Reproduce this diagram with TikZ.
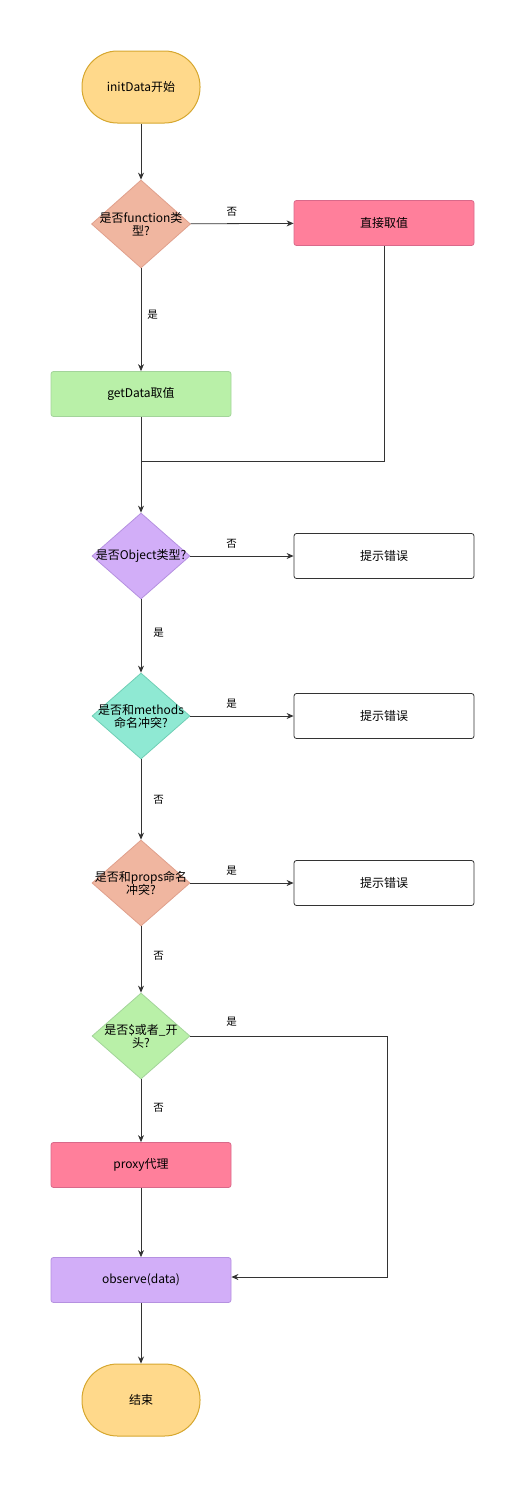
\documentclass[tikz,border=0pt]{standalone}
\usepackage{fontspec}
\setmainfont{Noto Sans CJK SC}
\usetikzlibrary{shapes.geometric,arrows.meta}
\definecolor{termfill}{HTML}{FFD98B}
\definecolor{termdraw}{HTML}{D6A72F}
\definecolor{pinkfill}{HTML}{FF7F9B}
\definecolor{pinkdraw}{HTML}{D9698A}
\definecolor{salfill}{HTML}{F0B6A0}
\definecolor{saldraw}{HTML}{E0A08C}
\definecolor{grnfill}{HTML}{B9F0A8}
\definecolor{grndraw}{HTML}{A3D49A}
\definecolor{purfill}{HTML}{D2AEF8}
\definecolor{purdraw}{HTML}{B591E0}
\definecolor{tealfill}{HTML}{8FE9D3}
\definecolor{tealdraw}{HTML}{6FCFB5}
\definecolor{linec}{HTML}{333333}
\tikzset{
  terminal/.style={draw=termdraw,fill=termfill,line width=1pt,rectangle,rounded corners=35.5pt,minimum width=118pt,minimum height=72pt,inner sep=0pt,font=\fontsize{12}{14}\selectfont},
  procbox/.style={rectangle,rounded corners=2.5pt,line width=0.8pt,minimum width=180pt,minimum height=45pt,inner sep=0pt,font=\fontsize{12}{14}\selectfont},
  decision/.style={diamond,line width=0.8pt,minimum width=98pt,minimum height=86pt,inner sep=0pt},
  dtext/.style={align=center,font=\fontsize{12}{13}\selectfont,inner sep=0pt},
  lbl/.style={font=\fontsize{10.5}{12}\selectfont,inner sep=0pt},
  conn/.style={draw=linec,line width=0.8pt,-{Stealth[length=7pt,width=6pt]}},
  plain/.style={draw=linec,line width=0.8pt},
}
\begin{document}
\begin{tikzpicture}[x=1pt,y=-1pt]
\useasboundingbox (0,0) rectangle (524,1486);
% nodes
\node[terminal] (start) at (141,87) {initData开始};
\node[decision,draw=saldraw,fill=salfill,minimum width=99pt,minimum height=88pt] (d1) at (141,224) {};
\node[dtext] at (d1.center) {是否function类\\型?};
\node[procbox,draw=pinkdraw,fill=pinkfill] (direct) at (384,223) {直接取值};
\node[procbox,draw=grndraw,fill=grnfill] (getd) at (141,394) {getData取值};
\node[decision,draw=purdraw,fill=purfill] (d2) at (141,556) {};
\node[dtext] at (d2.center) {是否Object类型?};
\node[procbox,draw=linec,fill=white] (err1) at (384,556) {提示错误};
\node[decision,draw=tealdraw,fill=tealfill] (d3) at (141,716) {};
\node[dtext] at (d3.center) {是否和methods\\命名冲突?};
\node[procbox,draw=linec,fill=white] (err2) at (384,716) {提示错误};
\node[decision,draw=saldraw,fill=salfill] (d4) at (141,883) {};
\node[dtext] at (d4.center) {是否和props命名\\冲突?};
\node[procbox,draw=linec,fill=white] (err3) at (384,883) {提示错误};
\node[decision,draw=grndraw,fill=grnfill] (d5) at (141,1036) {};
\node[dtext] at (d5.center) {是否\$或者\_开\\头?};
\node[procbox,draw=pinkdraw,fill=pinkfill] (proxy) at (141,1165) {proxy代理};
\node[procbox,draw=purdraw,fill=purfill] (obs) at (141,1280) {observe(data)};
\node[terminal] (end) at (141,1400) {结束};
% connectors
\coordinate (merge) at (141,461);
\coordinate (rturn) at (387,1036);
\draw[conn] (start) -- (d1);
\draw[conn] (d1) -- node[lbl,pos=0.4,above=7pt] {否} (direct);
\draw[conn] (d1) -- node[lbl,right=6pt,pos=0.45] {是} (getd);
\draw[plain] (direct.south) |- (merge);
\draw[conn] (getd) -- (d2);
\draw[conn] (d2) -- node[lbl,pos=0.4,above=7pt] {否} (err1);
\draw[conn] (d2) -- node[lbl,right=12pt,pos=0.45] {是} (d3);
\draw[conn] (d3) -- node[lbl,pos=0.4,above=7pt] {是} (err2);
\draw[conn] (d3) -- node[lbl,right=12pt,pos=0.5] {否} (d4);
\draw[conn] (d4) -- node[lbl,pos=0.4,above=7pt] {是} (err3);
\draw[conn] (d4) -- node[lbl,right=12pt,pos=0.45] {否} (d5);
\draw[plain] (d5.east) -- node[lbl,pos=0.21,above=9pt] {是} (rturn);
\draw[conn] (rturn) |- ([yshift=3pt]obs.east);
\draw[conn] (d5) -- node[lbl,right=12pt,pos=0.45] {否} (proxy);
\draw[conn] (proxy) -- (obs);
\draw[conn] (obs) -- (end);
\end{tikzpicture}
\end{document}
